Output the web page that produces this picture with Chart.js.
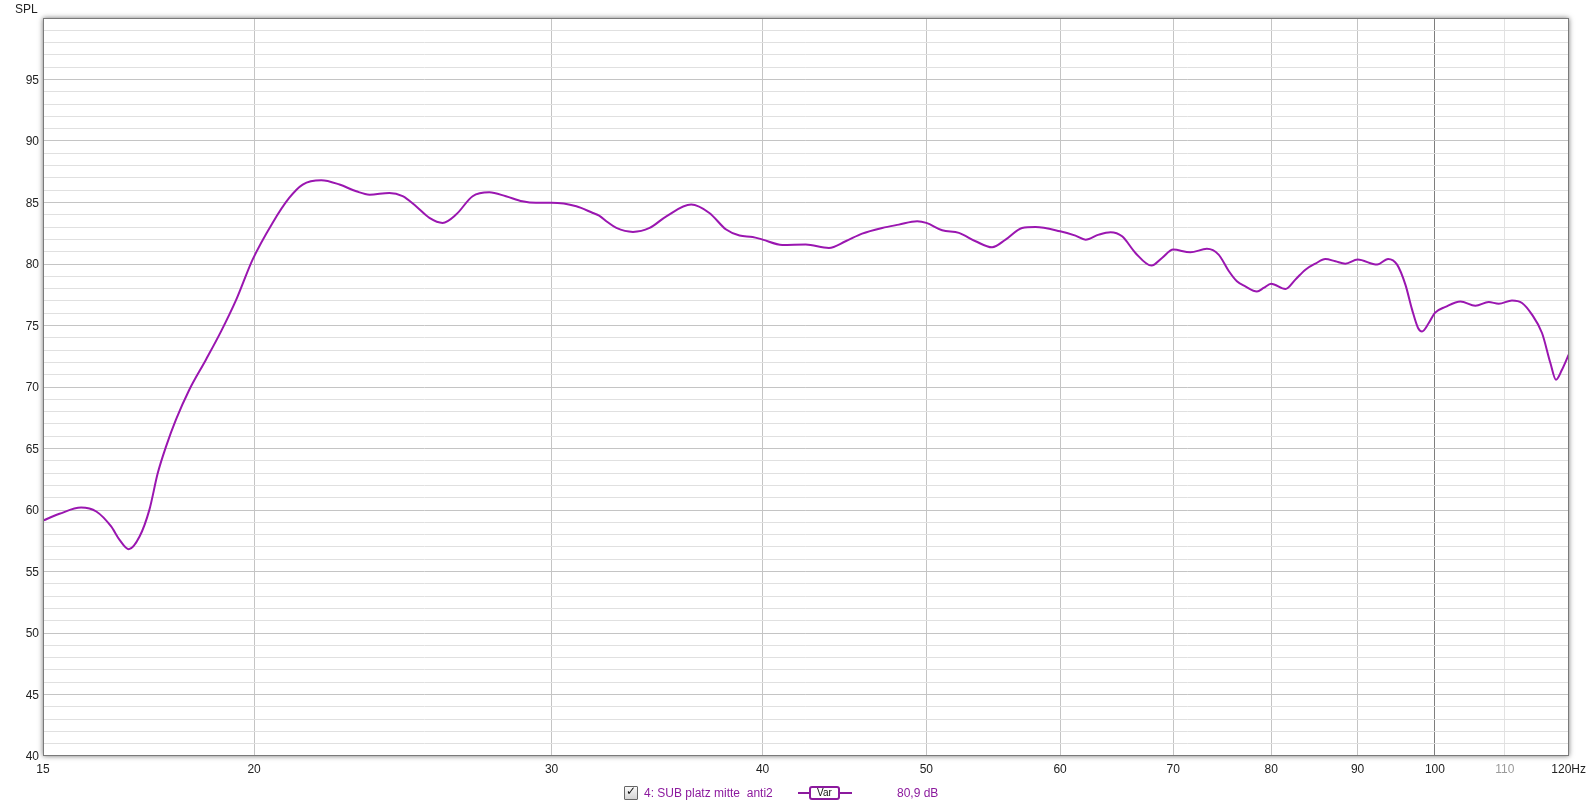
<!DOCTYPE html>
<html>
<head>
<meta charset="utf-8">
<script src="https://cdn.jsdelivr.net/npm/chart.js@4.4.1/dist/chart.umd.min.js"></script>
<style>
  html,body{margin:0;padding:0;background:#fff;}
  #wrap{position:relative;width:1592px;height:808px;overflow:hidden;font-family:"Liberation Sans",Arial,sans-serif;}
  canvas{position:absolute;left:0;top:0;}
  .t{position:absolute;font-size:12px;line-height:14px;white-space:pre;}
</style>
</head>
<body>
<div id="wrap">
  <canvas id="c" width="1592" height="808"></canvas>
  <div class="t" style="left:15px;top:2px;color:#222;">SPL</div>
  <div style="position:absolute;left:624px;top:786px;width:12px;height:12px;border:1px solid #666;background:linear-gradient(#fafafa,#d4d4d4);border-radius:1px;"></div>
  <div class="t" style="left:626px;top:784px;font-family:'DejaVu Sans';font-size:12px;color:#111;font-weight:bold;">✓</div>
  <div class="t" style="left:644px;top:786px;color:#8c1a9e;">4: SUB platz mitte  anti2</div>
  <div style="position:absolute;left:798px;top:792px;width:12px;height:2px;background:#8c1a9e;"></div>
  <div style="position:absolute;left:839px;top:792px;width:13px;height:2px;background:#8c1a9e;"></div>
  <div style="position:absolute;left:809px;top:786px;width:27px;height:10px;border:2px solid #8c1a9e;border-radius:3px;background:#fff;font-size:10px;line-height:10px;text-align:center;color:#111;">Var</div>
  <div class="t" style="left:897px;top:786px;color:#8c1a9e;">80,9 dB</div>
</div>
<script>
const freqs = [15.00,15.34,15.80,16.13,16.46,16.65,16.86,17.11,17.34,17.54,17.74,17.98,18.31,18.73,19.12,19.52,19.96,20.51,20.98,21.37,21.92,22.47,22.99,23.41,24.05,24.49,24.94,25.40,25.86,26.34,26.94,27.56,28.19,28.83,29.37,30.00,31.03,31.74,32.01,32.39,32.77,33.52,34.29,35.08,36.29,37.20,38.06,38.76,39.46,40.00,41.09,42.42,43.78,44.79,45.81,47.08,48.16,49.38,50.00,51.09,52.27,53.47,54.69,55.70,56.97,58.02,60.00,61.27,62.12,63.25,64.27,65.29,66.49,67.96,68.94,70.00,71.65,73.29,74.47,75.49,76.35,77.23,78.46,79.18,80.00,81.57,82.68,83.82,84.97,86.13,87.32,88.51,90.00,92.43,93.82,94.98,96.07,96.94,97.73,98.26,99.17,100.0,101.45,103.54,105.68,107.61,109.09,111.08,112.61,114.15,115.72,117.05,117.94,118.91,120.0];
const spl = [59.14,59.69,60.20,59.88,58.66,57.57,56.81,57.84,60.01,63.00,65.17,67.34,69.78,72.22,74.52,77.10,80.36,83.34,85.37,86.46,86.81,86.46,85.91,85.64,85.78,85.51,84.69,83.75,83.34,84.02,85.51,85.83,85.51,85.10,84.97,84.97,84.69,84.15,83.94,83.39,82.93,82.61,82.93,83.88,84.83,84.15,82.80,82.31,82.20,81.98,81.55,81.58,81.31,81.85,82.47,82.93,83.20,83.47,83.34,82.74,82.53,81.85,81.36,81.98,82.93,83.01,82.66,82.31,81.98,82.39,82.58,82.25,80.90,79.87,80.49,81.17,80.95,81.23,80.76,79.45,78.59,78.18,77.77,78.05,78.40,77.97,78.73,79.54,80.03,80.41,80.22,80.03,80.36,79.95,80.41,79.95,78.30,76.29,74.80,74.52,75.20,76.02,76.51,76.96,76.61,76.91,76.77,77.04,76.83,75.88,74.39,71.95,70.59,71.40,72.63];
const xTickValues = [15,20,30,40,50,60,70,80,90,100,110,120];
const yMin = 40, yMax = 100;

const lineColor = '#9a16b0';

const framePlugin = {
  id: 'frame',
  beforeDraw(chart) {
    const {ctx, chartArea: a} = chart;
    ctx.save();
    ctx.shadowColor = 'rgba(0,0,0,0.55)';
    ctx.shadowBlur = 5;
    ctx.fillStyle = '#fff';
    ctx.fillRect(a.left, a.top, a.right - a.left, a.bottom - a.top);
    ctx.restore();
  },
  afterDraw(chart) {
    const {ctx, chartArea: a} = chart;
    ctx.save();
    ctx.strokeStyle = '#7a7a7a';
    ctx.lineWidth = 1;
    ctx.strokeRect(Math.round(a.left) + 0.5, Math.round(a.top) + 0.5, Math.round(a.right - a.left) - 1, Math.round(a.bottom - a.top) - 1);
    ctx.restore();
  }
};

new Chart(document.getElementById('c'), {
  type: 'line',
  data: {
    datasets: [{
      data: freqs.map((f, i) => ({x: f, y: spl[i]})),
      borderColor: lineColor,
      borderWidth: 2,
      pointRadius: 0,
      cubicInterpolationMode: 'monotone',
      fill: false
    }]
  },
  options: {
    responsive: false,
    animation: false,
    devicePixelRatio: 1,
    layout: {padding: {top: 18, right: 22, left: 0, bottom: 0}},
    plugins: {legend: {display: false}, tooltip: {enabled: false}},
    scales: {
      x: {
        type: 'logarithmic',
        min: 15, max: 120,
        afterBuildTicks: s => { s.ticks = xTickValues.map(v => ({value: v})); },
        afterFit: s => { s.height = 52; },
        ticks: {
          autoSkip: false, maxRotation: 0, minRotation: 0, padding: 6,
          font: {family: '"Liberation Sans", Arial, sans-serif', size: 12},
          color: c => (c.tick && c.tick.value === 110) ? '#9a9a9a' : '#222',
          callback: v => (v === 120 ? '120Hz' : String(v))
        },
        grid: {
          drawTicks: false,
          lineWidth: 1,
          color: c => {
            const v = c.tick ? c.tick.value : 0;
            if (v === 15 || v === 120) return 'rgba(0,0,0,0)';
            if (v === 100) return '#7e7e7e';
            if (v === 110) return '#e2e2e2';
            return '#c4c4c4';
          }
        },
        border: {display: false}
      },
      y: {
        type: 'linear',
        min: yMin, max: yMax,
        afterBuildTicks: s => {
          const t = [];
          for (let v = yMin; v <= yMax; v++) t.push({value: v});
          s.ticks = t;
        },
        afterFit: s => { s.width = 43; },
        ticks: {
          autoSkip: false, padding: 4, labelOffset: 1,
          font: {family: '"Liberation Sans", Arial, sans-serif', size: 12},
          color: '#222',
          callback: v => (v % 5 === 0 && v !== 100) ? String(v) : ''
        },
        grid: {
          drawTicks: false,
          lineWidth: 1,
          color: c => {
            const v = c.tick ? c.tick.value : 0;
            if (v === yMin || v === yMax) return 'rgba(0,0,0,0)';
            return v % 5 === 0 ? '#c4c4c4' : '#e0e0e0';
          }
        },
        border: {display: false}
      }
    }
  },
  plugins: [framePlugin]
});
</script>
</body>
</html>
